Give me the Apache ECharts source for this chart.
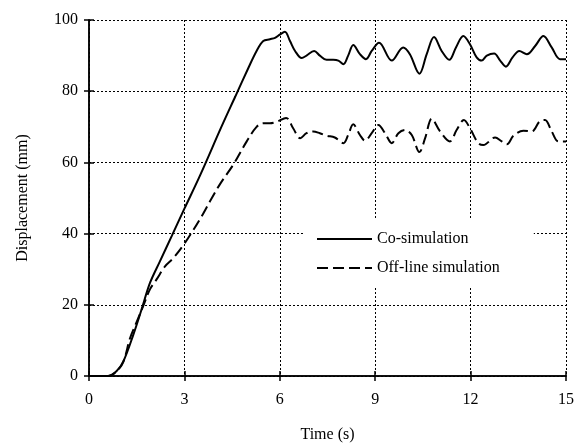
<!DOCTYPE html>
<html><head><meta charset="utf-8">
<script src="https://cdn.jsdelivr.net/npm/echarts@6/dist/echarts.min.js"></script>
<style>html,body{margin:0;padding:0;background:#fff}#c{width:577px;height:448px}</style>
</head><body><div id="c"></div>
<script>
var xTicks = [0, 3, 6, 9, 12, 15];
var yTicks = [0, 20, 40, 60, 80, 100];
var seriesNames = ['Co-simulation', 'Off-line simulation'];

var coSimTime = [0, 0.6, 0.87, 1.08, 1.39, 1.66, 1.92, 2.23, 2.6, 3.0, 3.5, 4.17, 4.6, 5.0, 5.27, 5.48, 5.69, 5.85, 6.0, 6.16,
  6.32, 6.48, 6.69, 6.84, 7.08, 7.26, 7.47, 7.68, 7.84, 8.0, 8.15, 8.31, 8.52, 8.71, 8.89, 9.12, 9.52, 9.88, 10.09, 10.39,
  10.62, 10.85, 11.09, 11.33, 11.54, 11.77, 11.98, 12.19, 12.35, 12.51, 12.74, 12.93, 13.11, 13.32, 13.53, 13.77, 14.03, 14.29, 14.55, 14.81,
  15.0];
var coSimDisp = [0, 0, 1.4, 4.1, 11.5, 18.9, 26.2, 32.2, 39.3, 47.0, 56.5, 70.1, 78.5, 86.3, 91.3, 94.1, 94.6, 95.0, 95.9, 96.7,
  94.1, 91.3, 89.3, 90.0, 91.3, 90.0, 88.8, 88.8, 88.6, 87.6, 90.0, 93.0, 90.4, 89.0, 91.3, 93.6, 88.6, 92.3, 90.4, 84.9,
  90.4, 95.2, 91.3, 88.8, 92.3, 95.5, 93.2, 89.5, 88.6, 90.0, 90.6, 88.6, 86.9, 89.5, 91.3, 90.4, 92.7, 95.5, 92.3, 89.0,
  89.0];

var offTime = [0, 0.6, 0.87, 1.08, 1.29, 1.5, 1.71, 1.92, 2.13, 2.39, 2.65, 3.01, 3.28, 3.59, 3.8, 4.12, 4.54, 4.96, 5.27, 5.48,
  5.69, 5.9, 6.2, 6.42, 6.64, 6.84, 7.05, 7.26, 7.47, 7.73, 8.0, 8.15, 8.31, 8.52, 8.68, 8.89, 9.1, 9.31, 9.52, 9.73,
  9.94, 10.15, 10.39, 10.57, 10.78, 11.04, 11.35, 11.56, 11.79, 11.98, 12.24, 12.4, 12.77, 12.98, 13.14, 13.35, 13.66, 13.92, 14.18, 14.34,
  14.55, 14.76, 15.0];
var offDisp = [0, 0, 1.3, 4.0, 10.6, 15.2, 19.8, 24.4, 27.2, 30.8, 33.1, 37.3, 41.0, 45.6, 49.0, 53.9, 59.4, 65.9, 70.0, 71.0,
  71.0, 71.4, 72.5, 69.6, 66.8, 68.2, 68.7, 68.2, 67.5, 67.0, 65.4, 67.7, 70.7, 67.7, 66.1, 68.2, 70.5, 68.2, 65.4, 68.2,
  69.1, 67.7, 62.9, 66.8, 72.3, 68.7, 65.9, 69.1, 71.9, 69.6, 65.4, 64.9, 67.0, 65.9, 65.1, 67.5, 68.9, 68.7, 71.6, 71.9,
  68.7, 65.9, 65.9];

function zip(a, b) { return a.map(function (v, i) { return [v, b[i]]; }); }

var FONT = 'Liberation Serif';
var chart = echarts.init(document.getElementById('c'), null, {renderer: 'canvas'});
var lbl = {fontFamily: FONT, fontSize: 16, color: '#000'};
var axLine = {show: true, lineStyle: {color: '#000', width: 1.5}};
var tick = {show: true, inside: true, length: 5, lineStyle: {color: '#000', width: 1.5}};
chart.setOption({
  animation: false,
  backgroundColor: '#fff',
  grid: {left: 89, right: 11, top: 20, bottom: 66.5, containLabel: false},
  legend: {
    orient: 'vertical', left: 304, top: 219,
    padding: [12, 34, 10, 12], itemGap: 13, itemWidth: 55, itemHeight: 14,
    backgroundColor: '#fff',
    itemStyle: {opacity: 0},
    textStyle: {fontFamily: FONT, fontSize: 16, color: '#000'},
    data: seriesNames
  },
  xAxis: [{
    type: 'value', min: xTicks[0], max: xTicks[xTicks.length - 1], interval: xTicks[1] - xTicks[0],
    name: 'Time (s)', nameLocation: 'middle', nameGap: 51, nameTextStyle: lbl,
    axisLine: axLine, axisTick: tick, axisLabel: Object.assign({margin: 16}, lbl),
    splitLine: {show: true, lineStyle: {color: '#000', width: 1, type: [2, 2]}}
  }, {
    type: 'value', position: 'top', min: xTicks[0], max: xTicks[xTicks.length - 1], interval: xTicks[1] - xTicks[0],
    axisLine: axLine, axisTick: tick, axisLabel: {show: false}, splitLine: {show: false}
  }],
  yAxis: [{
    type: 'value', min: yTicks[0], max: yTicks[yTicks.length - 1], interval: yTicks[1] - yTicks[0],
    name: 'Displacement (mm)', nameLocation: 'middle', nameGap: 58, nameTextStyle: lbl,
    axisLine: axLine, axisTick: tick, axisLabel: Object.assign({margin: 11}, lbl),
    splitLine: {show: true, lineStyle: {color: '#000', width: 1, type: [2, 2]}}
  }, {
    type: 'value', position: 'right', min: yTicks[0], max: yTicks[yTicks.length - 1], interval: yTicks[1] - yTicks[0],
    axisLine: axLine, axisTick: tick, axisLabel: {show: false}, splitLine: {show: false}
  }],
  series: [{
    name: seriesNames[0], type: 'line', data: zip(coSimTime, coSimDisp),
    showSymbol: false, symbol: 'none', smooth: 0.35,
    lineStyle: {color: '#000', width: 2, type: 'solid'}, itemStyle: {color: '#000'}
  }, {
    name: seriesNames[1], type: 'line', data: zip(offTime, offDisp),
    showSymbol: false, symbol: 'none', smooth: 0.35,
    lineStyle: {color: '#000', width: 2, type: [11, 5]}, itemStyle: {color: '#000'}
  }]
});
</script></body></html>
